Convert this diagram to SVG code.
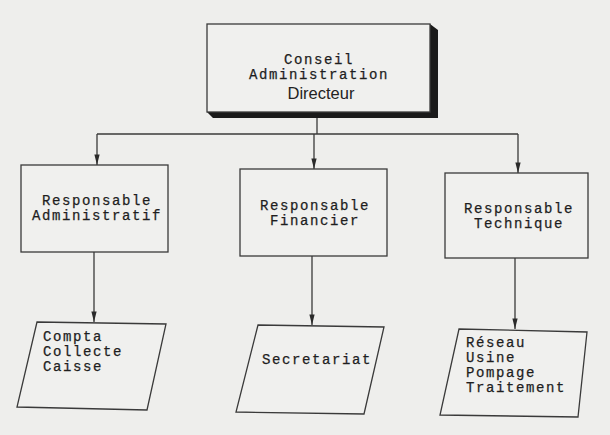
<svg xmlns="http://www.w3.org/2000/svg" width="610" height="435" viewBox="0 0 610 435">
<defs>
<style>
.bg{fill:#eeeeec}
.box{fill:#f0f0ee;stroke:#3a3a3a;stroke-width:1.3}
.shadow{fill:#1a1a1a}
.mono{font-family:"Liberation Mono","Courier New",monospace;font-size:14px;fill:#1e1e1e;letter-spacing:1.6px;stroke:#1e1e1e;stroke-width:0.25}
.sans{font-family:"Liberation Sans",Arial,sans-serif;font-size:16.5px;fill:#222}
.conn{fill:none;stroke:#3a3a3a;stroke-width:1.3}
</style>
<marker id="arr" viewBox="0 0 12 8" refX="12" refY="4" markerWidth="12" markerHeight="7" markerUnits="userSpaceOnUse" orient="auto">
<path d="M0,1 L12,4 L0,7 Z" fill="#2a2a2a"/>
</marker>
</defs>
<rect class="bg" x="0" y="0" width="610" height="435"/>

<g id="connectors">
<path class="conn" d="M317,118 V134"/>
<path class="conn" d="M97,134 H518"/>
<path class="conn" d="M97,134 V165" marker-end="url(#arr)"/>
<path class="conn" d="M314,134 V169" marker-end="url(#arr)"/>
<path class="conn" d="M518,134 V173" marker-end="url(#arr)"/>
<path class="conn" d="M94,252 V322" marker-end="url(#arr)"/>
<path class="conn" d="M312,256 V325" marker-end="url(#arr)"/>
<path class="conn" d="M515,258 V329" marker-end="url(#arr)"/>
</g>

<g id="conseil">
<polygon class="shadow" points="430,24 438,30 438,118 213,118 207,112 430,112"/>
<rect class="box" x="207" y="24" width="223" height="88"/>
<text class="mono" x="319" y="64" text-anchor="middle">Conseil</text>
<text class="mono" x="319" y="79" text-anchor="middle">Administration</text>
<text class="sans" x="321" y="99" text-anchor="middle">Directeur</text>
</g>

<g id="resp-admin">
<rect class="box" x="21" y="165" width="147" height="87"/>
<text class="mono" x="97" y="205" text-anchor="middle">Responsable</text>
<text class="mono" x="97" y="220" text-anchor="middle">Administratif</text>
</g>

<g id="resp-fin">
<rect class="box" x="240" y="169" width="147" height="87"/>
<text class="mono" x="315" y="210" text-anchor="middle">Responsable</text>
<text class="mono" x="315" y="225" text-anchor="middle">Financier</text>
</g>

<g id="resp-tech">
<rect class="box" x="445" y="173" width="143" height="85"/>
<text class="mono" x="519" y="213" text-anchor="middle">Responsable</text>
<text class="mono" x="519" y="228" text-anchor="middle">Technique</text>
</g>

<g id="compta">
<polygon class="box" points="37,322 166,324 147,410 17,407"/>
<text class="mono" x="43" y="341">Compta</text>
<text class="mono" x="43" y="356">Collecte</text>
<text class="mono" x="43" y="371">Caisse</text>
</g>

<g id="secretariat">
<polygon class="box" points="258,325 384,327 364,414 236,412"/>
<text class="mono" x="262" y="364">Secretariat</text>
</g>

<g id="reseau">
<polygon class="box" points="459,329 587,332 578,417 440,415"/>
<text class="mono" x="466" y="347">Réseau</text>
<text class="mono" x="466" y="362">Usine</text>
<text class="mono" x="466" y="377">Pompage</text>
<text class="mono" x="466" y="392">Traitement</text>
</g>
</svg>
